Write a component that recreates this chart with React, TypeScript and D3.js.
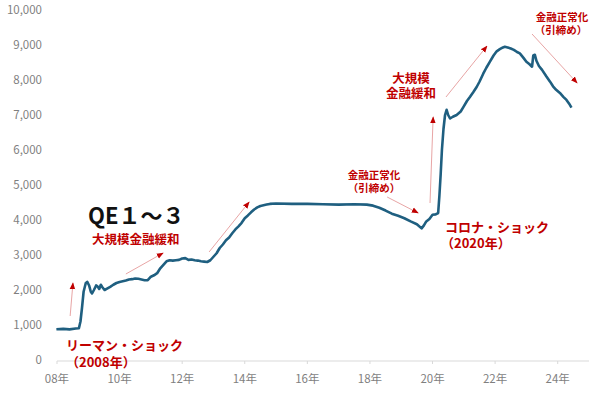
import React from "react";
import * as d3 from "d3";

const years: number[] = [
  2007.98, 2008.2, 2008.4, 2008.6, 2008.7, 2008.75, 2008.8, 2008.85, 2008.92, 2008.97,
  2009.03, 2009.08, 2009.12, 2009.18, 2009.25, 2009.3, 2009.35, 2009.4, 2009.45, 2009.52,
  2009.6, 2009.7, 2009.8, 2009.9, 2010.0, 2010.1, 2010.2, 2010.3, 2010.4, 2010.5,
  2010.6, 2010.7, 2010.8, 2010.9, 2011.0, 2011.1, 2011.2, 2011.3, 2011.4, 2011.5,
  2011.6, 2011.7, 2011.8, 2011.9, 2012.0, 2012.1, 2012.2, 2012.3, 2012.4, 2012.5,
  2012.6, 2012.7, 2012.8, 2012.9, 2013.0, 2013.1, 2013.2, 2013.3, 2013.4, 2013.5,
  2013.6, 2013.7, 2013.8, 2013.9, 2014.0, 2014.1, 2014.2, 2014.3, 2014.4, 2014.5,
  2014.6, 2014.7, 2014.8, 2015.0, 2015.5, 2016.0, 2016.5, 2017.0, 2017.5, 2017.9,
  2018.1, 2018.3, 2018.5, 2018.7, 2018.9, 2019.1, 2019.3, 2019.5, 2019.65, 2019.72,
  2019.8, 2019.9, 2020.0, 2020.1, 2020.18, 2020.22, 2020.26, 2020.3, 2020.35, 2020.4,
  2020.45, 2020.5, 2020.56, 2020.65, 2020.77, 2020.9, 2020.98, 2021.1, 2021.2, 2021.3,
  2021.41, 2021.5, 2021.62, 2021.72, 2021.83, 2021.95, 2022.05, 2022.15, 2022.25, 2022.31,
  2022.4, 2022.5, 2022.6, 2022.7, 2022.79, 2022.9, 2023.0, 2023.1, 2023.18, 2023.22,
  2023.27, 2023.32, 2023.4, 2023.5, 2023.64, 2023.75, 2023.85, 2023.95, 2024.07, 2024.18,
  2024.28, 2024.36, 2024.44,
];

const values: number[] = [
  880, 890, 875, 900, 905, 1100, 1500, 1950, 2200, 2230,
  2120, 1950, 1900, 2000, 2130, 2100, 2030, 2150, 2080, 2000,
  2040, 2090, 2150, 2200, 2230, 2250, 2270, 2300, 2310, 2330,
  2320, 2300, 2280, 2280, 2380, 2420, 2480, 2620, 2720, 2820,
  2850, 2840, 2850, 2860, 2900, 2910, 2860, 2870, 2850, 2840,
  2820, 2810, 2800, 2850, 2950, 3050, 3200, 3300, 3420, 3500,
  3620, 3730, 3820, 3920, 4050, 4130, 4220, 4300, 4360, 4400,
  4420, 4440, 4460, 4470, 4460, 4460, 4450, 4440, 4450, 4440,
  4410, 4350, 4270, 4180, 4120, 4050, 3960, 3880, 3760, 3840,
  3960, 4030, 4150, 4160, 4200, 4700, 5300, 6000, 6600, 7000,
  7150, 7000, 6900, 6950, 7000, 7100, 7220, 7400, 7520, 7650,
  7800, 7950, 8180, 8350, 8520, 8700, 8820, 8880, 8930, 8950,
  8930, 8900, 8860, 8800, 8760, 8640, 8520, 8450, 8380, 8700,
  8720, 8550, 8400, 8290, 8100, 7960, 7820, 7720, 7630, 7520,
  7430, 7330, 7210,
];

const xTickYears: number[] = [2008, 2010, 2012, 2014, 2016, 2018, 2020, 2022, 2024];
const xTickLabels: string[] = ["08年", "10年", "12年", "14年", "16年", "18年", "20年", "22年", "24年"];
const yTicks: number[] = [0, 1000, 2000, 3000, 4000, 5000, 6000, 7000, 8000, 9000, 10000];

// arrows: [year0, value0, year1, value1]
const arrows: number[][] = [
  [2008.42, 1257, 2008.51, 2200],
  [2010.2, 2457, 2011.39, 3057],
  [2012.86, 3086, 2014.14, 4514],
  [2018.55, 4657, 2019.54, 4200],
  [2019.92, 4486, 2020.02, 6943],
  [2020.43, 7514, 2021.74, 8971],
  [2023.18, 9314, 2024.62, 7914],
];

const W = 600;
const H = 395;
const RED = "#c00000";
const FONT = "'Noto Sans CJK JP', 'Noto Sans', sans-serif";

export default function App() {
  const x = d3.scaleLinear().domain([2008, 2025]).range([57, 589]);
  const y = d3.scaleLinear().domain([0, 10000]).range([360, 10]);
  const pts = years.map((t, i) => [t, values[i]] as [number, number]);
  const line = d3
    .line<[number, number]>()
    .x((d) => x(d[0]))
    .y((d) => y(d[1]))
    .curve(d3.curveLinear);
  const fmt = d3.format(",");

  return (
    <svg
      width={W}
      height={H}
      style={{ position: "absolute", left: 0, top: 0, background: "#fff" }}
      fontFamily={FONT}
    >
      <defs>
        <marker id="ah" viewBox="0 0 10 10" refX="9" refY="5" markerWidth="7" markerHeight="7" orient="auto">
          <path d="M0,1 L10,5 L0,9 Z" fill={RED} />
        </marker>
      </defs>
      <rect x={0} y={0} width={W} height={H} fill="#fff" />
      {yTicks.map((v) => (
        <text key={v} x={42} y={y(v) + 4} textAnchor="end" fontSize={11.5} fill="#7f7f7f">
          {fmt(v)}
        </text>
      ))}
      <line x1={x(2008)} x2={x(2025)} y1={361} y2={361} stroke="#d9d9d9" strokeWidth={1} />
      {xTickYears.map((t) => (
        <line key={t} x1={x(t)} x2={x(t)} y1={361} y2={364} stroke="#d9d9d9" strokeWidth={1} />
      ))}
      {xTickYears.map((t, i) => (
        <text key={t} x={x(t)} y={383} textAnchor="middle" fontSize={11.5} fill="#7f7f7f">
          {xTickLabels[i]}
        </text>
      ))}
      <path d={line(pts) || ""} fill="none" stroke="#1f5f80" strokeWidth={2.6} strokeLinejoin="round" />
      {arrows.map((a, i) => (
        <line
          key={i}
          x1={x(a[0])}
          y1={y(a[1])}
          x2={x(a[2])}
          y2={y(a[3])}
          stroke="#e8a5a5"
          strokeWidth={1}
          markerEnd="url(#ah)"
        />
      ))}
      <text x={88} y={224} fontSize={22} fontWeight="bold" fill="#111">QE１～３</text>
      <text x={92} y={244} fontSize={12.5} fontWeight="bold" fill={RED}>大規模金融緩和</text>
      <text x={66} y={350} fontSize={13} fontWeight="bold" fill={RED}>リーマン・ショック</text>
      <text x={66} y={367} fontSize={13} fontWeight="bold" fill={RED}>（2008年）</text>
      <text x={374} y={179} fontSize={10.5} fontWeight="bold" fill={RED} textAnchor="middle">金融正常化</text>
      <text x={374} y={192} fontSize={10.5} fontWeight="bold" fill={RED} textAnchor="middle">（引締め）</text>
      <text x={445} y={232} fontSize={13} fontWeight="bold" fill={RED}>コロナ・ショック</text>
      <text x={441} y={248} fontSize={13} fontWeight="bold" fill={RED}>（2020年）</text>
      <text x={411} y={83} fontSize={12.5} fontWeight="bold" fill={RED} textAnchor="middle">大規模</text>
      <text x={411} y={98} fontSize={12.5} fontWeight="bold" fill={RED} textAnchor="middle">金融緩和</text>
      <text x={562} y={21} fontSize={10.5} fontWeight="bold" fill={RED} textAnchor="middle">金融正常化</text>
      <text x={561} y={34} fontSize={10.5} fontWeight="bold" fill={RED} textAnchor="middle">（引締め）</text>
    </svg>
  );
}
